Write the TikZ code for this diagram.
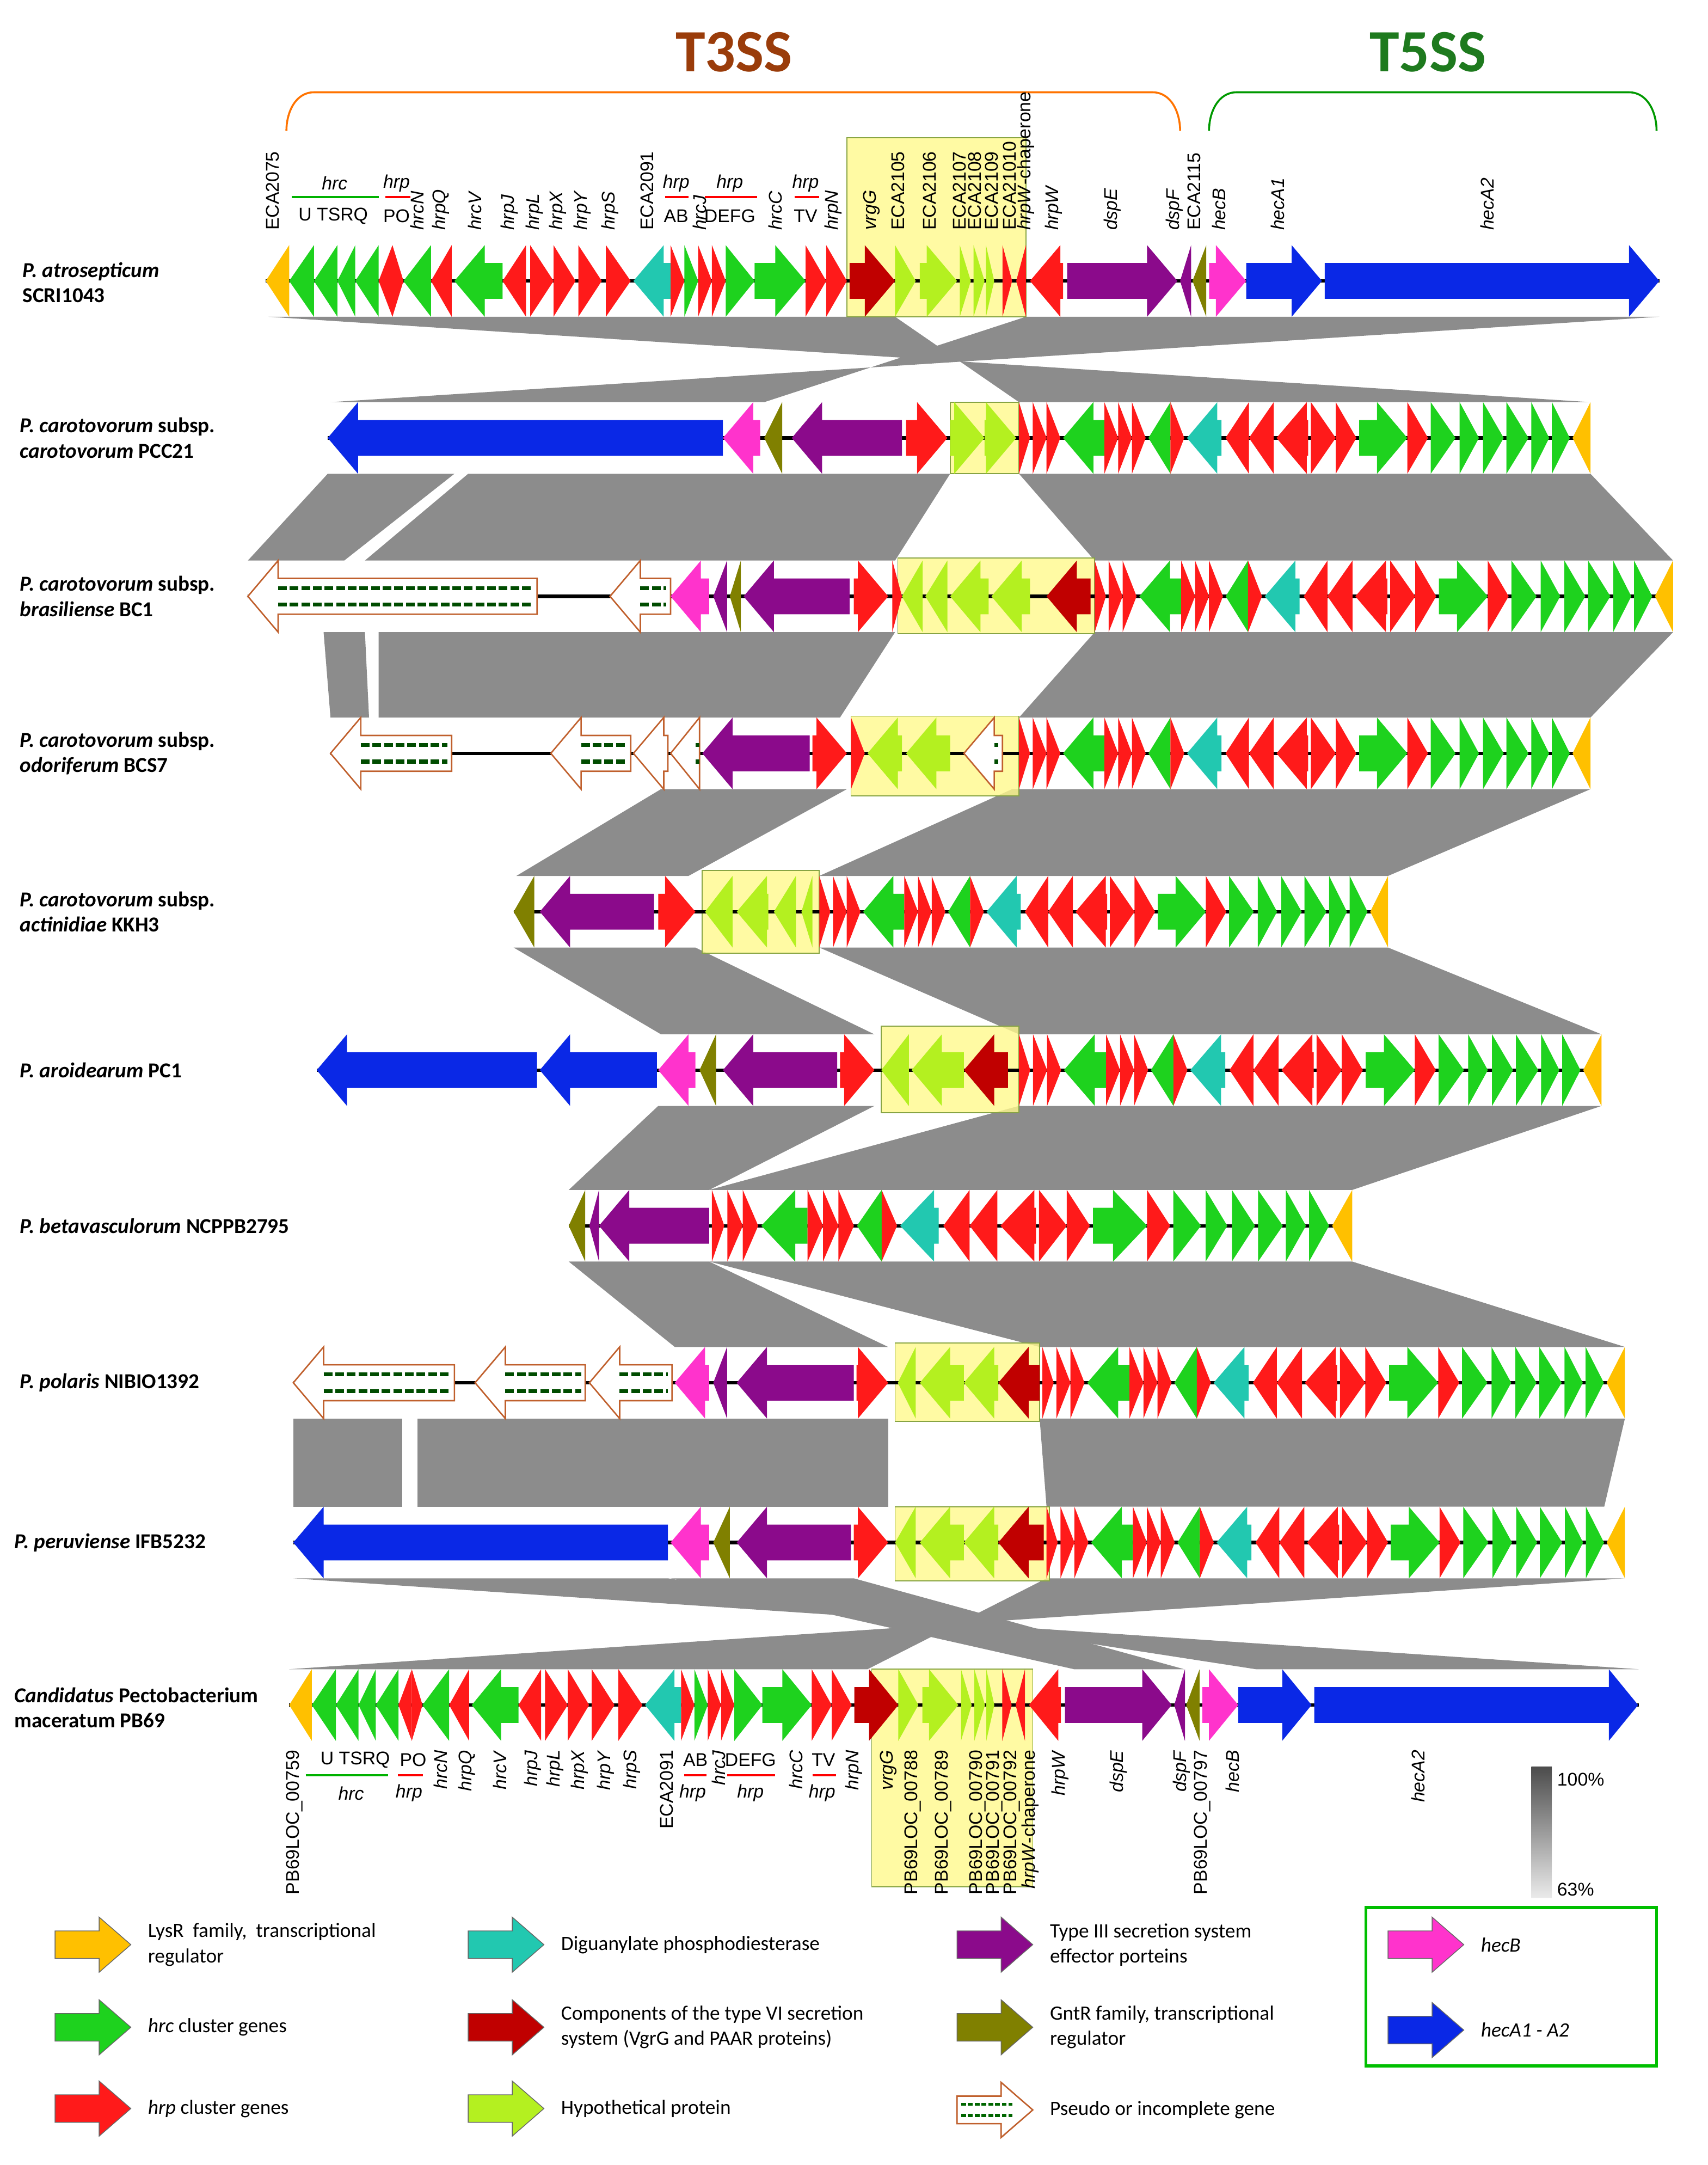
\documentclass[tikz,border=0pt]{standalone}
\usepackage{fontspec}
\setmainfont{Carlito}
\newfontfamily\arl{Liberation Sans}
\begin{document}
\begin{tikzpicture}[x=0.05cm,y=-0.05cm]
\definecolor{kly}{HTML}{FFC000}\definecolor{khc}{HTML}{1ED21E}\definecolor{khp}{HTML}{FF1A1A}
\definecolor{ktl}{HTML}{22C8B0}\definecolor{kdr}{HTML}{C00000}\definecolor{khy}{HTML}{B4F020}
\definecolor{kpu}{HTML}{8B0A8B}\definecolor{kol}{HTML}{808000}\definecolor{kmg}{HTML}{FF33CC}
\definecolor{kbl}{HTML}{0A28E6}\definecolor{kbr}{HTML}{C0602D}\definecolor{kband}{HTML}{8C8C8C}
\definecolor{kt3}{HTML}{9A3C0A}\definecolor{kt5}{HTML}{1E7A1E}
\tikzset{bb/.style={line width=3.5pt,black},band/.style={fill=kband,draw=none},
 hl/.style={fill=yellow!45,draw=yellow!60!green!70!black,line width=1pt,fill opacity=0.8},
 gl/.style={font=\arl\fontsize{19}{21}\selectfont,inner sep=1pt},
 rl/.style={font=\bfseries\fontsize{22}{26}\selectfont,anchor=west,align=left},
 lg/.style={font=\fontsize{21}{26}\selectfont,anchor=west,align=left}}
\newcommand\gn[4]{\pgfmathsetmacro\gl{#2-#1}\pgfmathsetmacro\hh{min(22,\gl)}%
 \if R#4\pgfmathsetmacro\xh{#2-\hh}\fill[fill=#3] (#1,-13)--(\xh,-13)--(\xh,-26)--(#2,0)--(\xh,26)--(\xh,13)--(#1,13)--cycle;%
 \else\pgfmathsetmacro\xh{#1+\hh}\fill[fill=#3] (#2,-13)--(\xh,-13)--(\xh,-26)--(#1,0)--(\xh,26)--(\xh,13)--(#2,13)--cycle;\fi}
\newcommand\pg[2]{\pgfmathsetmacro\gl{#2-#1}\pgfmathsetmacro\hh{min(22,\gl)}\pgfmathsetmacro\xh{#1+\hh}%
 \filldraw[fill=white,draw=kbr,line width=1.5pt] (#2,-13)--(\xh,-13)--(\xh,-26)--(#1,0)--(\xh,26)--(\xh,13)--(#2,13)--cycle;
 \draw[line width=4pt,dash pattern=on 9pt off 3pt,color=black!70!green] (\xh,-6)--(#2-3,-6) (\xh,6)--(#2-3,6);}
\def\corelist{0/8/khp/R,10/20/khp/R,20/30/khp/R,32/62/khc/L,62/72/khp/R,72/82/khp/R,82/92/khp/R,94/110/khc/L,110/120/khp/R,122/147/ktl/L,150/167/khp/L,167/185/khp/L,187/210/khp/L,212/230/khp/R,230/245/khp/R,247/282/khc/R,282/297/khp/R,299/317/khc/R,320/334/khc/R,337/352/khc/R,354/370/khc/R,372/385/khc/R,387/400/khc/R,402/415/kly/L}
\newcommand\core[3]{\pgfmathsetmacro\sc{(#2-#1)/415}\begin{scope}[shift={(#1,#3)},xscale=\sc]\foreach \a/\b/\c/\d in \corelist {\gn{\a}{\b}{\c}{\d}}\end{scope}}
\def\rowone{193/210/kly/L,210/228/khc/L,228/245/khc/L,245/258/khc/L,258/275/khc/L,275/285/khp/L,285/293/khp/R,293/313/khc/L,313/328/khp/L,330/365/khc/L,365/382/khp/L,385/402/khp/R,402/418/khp/R,420/437/khp/R,440/458/khp/R,460/487/ktl/L,487/497/khp/R,497/507/khc/R,507/517/khp/R,517/527/khp/R,527/548/khc/R,548/585/khc/R,585/600/khp/R,600/615/khp/R,617/650/kdr/R,650/665/khy/R,668/695/khy/R,697/705/khy/R,707/715/khy/R,716/722/khy/R,728/735/khp/R,738/745/khp/L,748/772/khp/L,775/855/kpu/R,857/865/kpu/L,866/876/kol/L,878/905/kmg/R,905/960/kbl/R,962/1205/kbl/R}
\useasboundingbox (0,0) rectangle (1240,1572);
\fill[white] (0,0) rectangle (1240,1572);
% braces
\draw[line width=2pt,color=orange!90!red] (208,95) to[out=90,in=180] (228,67) -- (837,67) to[out=0,in=90] (857,95);
\draw[line width=2pt,color=green!60!black] (878,95) to[out=90,in=180] (898,67) -- (1183,67) to[out=0,in=90] (1203,95);
\node[font=\bfseries\fontsize{62}{66}\selectfont,text=kt3] at (533,38) {T3SS};
\node[font=\bfseries\fontsize{62}{66}\selectfont,text=kt5] at (1037,38) {T5SS};
% bands
\fill[band] (195,230)--(650,230)--(740,292)--(1155,292)--cycle;
\fill[band] (745,230)--(1205,230)--(240,292)--(555,292)--cycle;
\fill[band] (238,344)--(330,344)--(250,407)--(180,407)--cycle;
\fill[band] (340,344)--(690,344)--(650,407)--(265,407)--cycle;
\fill[band] (740,344)--(1155,344)--(1215,407)--(795,407)--cycle;
\fill[band] (235,459)--(265,459)--(268,521)--(240,521)--cycle;
\fill[band] (275,459)--(650,459)--(610,521)--(275,521)--cycle;
\fill[band] (795,459)--(1215,459)--(1155,521)--(740,521)--cycle;
\fill[band] (480,573)--(615,573)--(500,636)--(375,636)--cycle;
\fill[band] (735,573)--(1155,573)--(1008,636)--(595,636)--cycle;
\fill[band] (373,688)--(505,688)--(635,751)--(480,751)--cycle;
\fill[band] (595,688)--(1008,688)--(1163,751)--(740,751)--cycle;
\fill[band] (478,803)--(635,803)--(515,864)--(413,864)--cycle;
\fill[band] (740,803)--(1163,803)--(982,864)--(515,864)--cycle;
\fill[band] (413,916)--(515,916)--(645,978)--(490,978)--cycle;
\fill[band] (515,916)--(982,916)--(1180,978)--(755,978)--cycle;
\fill[band] (213,1030)--(292,1030)--(292,1094)--(213,1094)--cycle;
\fill[band] (303,1030)--(645,1030)--(645,1094)--(303,1094)--cycle;
\fill[band] (755,1030)--(1180,1030)--(1165,1094)--(760,1094)--cycle;
\fill[band] (213,1146)--(485,1146)--(912,1212)--(1190,1212)--cycle;
\fill[band] (760,1146)--(1180,1146)--(210,1212)--(630,1212)--cycle;
\fill[band] (487,1146)--(620,1146)--(860,1212)--(780,1212)--cycle;
% highlights
\fill[hl] (615,100) rectangle (745,230);
\fill[hl] (690,292) rectangle (740,344);
\fill[hl] (652,405) rectangle (795,460);
\fill[hl] (618,520) rectangle (740,578);
\fill[hl] (510,632) rectangle (595,692);
\fill[hl] (640,745) rectangle (740,808);
\fill[hl] (650,975) rectangle (755,1032);
\fill[hl] (650,1094) rectangle (762,1148);
\fill[hl] (633,1212) rectangle (750,1370);
% row 1
\draw[bb] (193,204)--(1205,204);
\begin{scope}[shift={(0,204)}]\foreach \a/\b/\c/\d in \rowone {\gn{\a}{\b}{\c}{\d}}\end{scope}
% row 2
\draw[bb] (238,318)--(1155,318);
\begin{scope}[shift={(0,318)}]\foreach \a/\b/\c/\d in {238/525/kbl/L,525/552/kmg/L,555/568/kol/L,575/655/kpu/L,658/688/khp/R,690/715/khy/R,715/738/khy/R}{\gn{\a}{\b}{\c}{\d}}\end{scope}
\core{740}{1155}{318}
% row 3
\draw[bb] (180,433)--(1215,433);
\begin{scope}[shift={(0,433)}]\pg{180}{390}\pg{443}{487}\foreach \a/\b/\c/\d in {487/515/kmg/L,518/528/kpu/L,530/538/kol/L,540/617/kpu/L,620/645/khp/R,648/655/khp/R,655/670/khy/L,672/688/khy/L,690/718/khy/L,720/748/khy/L,760/792/kdr/L}{\gn{\a}{\b}{\c}{\d}}\end{scope}
\core{795}{1215}{433}
% row 4
\draw[bb] (240,547)--(1155,547);
\begin{scope}[shift={(0,547)}]\pg{240}{328}\pg{400}{458}\pg{460}{485}\pg{487}{508}\foreach \a/\b/\c/\d in {510/588/kpu/L,590/615/khp/R,618/628/khp/R,630/655/khy/L,658/690/khy/L}{\gn{\a}{\b}{\c}{\d}}\pg{700}{728}\end{scope}
\core{740}{1155}{547}
% row 5
\draw[bb] (373,662)--(1008,662);
\begin{scope}[shift={(0,662)}]\foreach \a/\b/\c/\d in {373/388/kol/L,392/475/kpu/L,478/505/khp/R,512/532/khy/L,535/558/khy/L,562/578/khy/L,582/590/khy/L}{\gn{\a}{\b}{\c}{\d}}\end{scope}
\core{595}{1008}{662}
% row 6
\draw[bb] (230,777)--(1163,777);
\begin{scope}[shift={(0,777)}]\foreach \a/\b/\c/\d in {230/390/kbl/L,392/477/kbl/L,478/505/kmg/L,508/520/kol/L,525/608/kpu/L,610/635/khp/R,640/660/khy/L,662/700/khy/L,700/732/kdr/L}{\gn{\a}{\b}{\c}{\d}}\end{scope}
\core{740}{1163}{777}
% row 7
\draw[bb] (413,890)--(982,890);
\begin{scope}[shift={(0,890)}]\foreach \a/\b/\c/\d in {413/425/kol/L,428/435/kpu/L,435/515/kpu/L}{\gn{\a}{\b}{\c}{\d}}\end{scope}
\core{517}{982}{890}
% row 8
\draw[bb] (213,1004)--(1180,1004);
\begin{scope}[shift={(0,1004)}]\pg{213}{330}\pg{345}{425}\pg{428}{488}\foreach \a/\b/\c/\d in {490/515/kmg/L,518/528/kpu/L,535/620/kpu/L,622/645/khp/R,652/665/khy/L,668/700/khy/L,700/725/khy/L,725/755/kdr/L}{\gn{\a}{\b}{\c}{\d}}\end{scope}
\core{757}{1180}{1004}
% row 9
\draw[bb] (213,1120)--(1180,1120);
\begin{scope}[shift={(0,1120)}]\foreach \a/\b/\c/\d in {213/485/kbl/L,487/515/kmg/L,518/530/kol/L,535/618/kpu/L,620/645/khp/R,650/665/khy/L,668/700/khy/L,700/725/khy/L,725/758/kdr/L}{\gn{\a}{\b}{\c}{\d}}\end{scope}
\core{760}{1180}{1120}
% row 10
\draw[bb] (210,1238)--(1190,1238);
\begin{scope}[shift={(210,1238)},xscale=0.968,shift={(-193,0)}]\foreach \a/\b/\c/\d in \rowone {\gn{\a}{\b}{\c}{\d}}\end{scope}
% row labels
\node[rl] at (14,205) {\textit{P. atrosepticum}\\SCRI1043};
\node[rl] at (12,318) {\textit{P. carotovorum} subsp.\\\textit{carotovorum} PCC21};
\node[rl] at (12,433) {\textit{P. carotovorum} subsp.\\\textit{brasiliense} BC1};
\node[rl] at (12,547) {\textit{P. carotovorum} subsp.\\\textit{odoriferum} BCS7};
\node[rl] at (12,662) {\textit{P. carotovorum} subsp.\\\textit{actinidiae} KKH3};
\node[rl] at (12,777) {\textit{P. aroidearum} PC1};
\node[rl] at (12,890) {\textit{P. betavasculorum} NCPPB2795};
\node[rl] at (12,1004) {\textit{P. polaris} NIBIO1392};
\node[rl] at (8,1120) {\textit{P. peruviense} IFB5232};
\node[rl] at (8,1240) {\textit{Candidatus} Pectobacterium\\maceratum PB69};
% top labels
\foreach \x/\t in {198/ECA2075,303/\textit{hrcN},320/\textit{hrpQ},345/\textit{hrcV},370/\textit{hrpJ},388/\textit{hrpL},405/\textit{hrpX},423/\textit{hrpY},443/\textit{hrpS},470/ECA2091,508/\textit{hrcJ},563/\textit{hrcC},605/\textit{hrpN},633/\textit{vrgG},652/ECA2105,675/ECA2106,697/ECA2107,708/ECA2108,720/ECA2109,733/ECA21010,745/\textit{hrpW}-chaperone,765/\textit{hrpW},808/\textit{dspE},853/\textit{dspF},867/ECA2115,885/\textit{hecB},928/\textit{hecA1},1080/\textit{hecA2}}
 {\node[gl,anchor=west,rotate=90] at (\x,168) {\t};}
\foreach \x/\t in {242/U TSRQ,288/PO,491/AB,530/DEFG,585/TV} {\node[gl] at (\x,157) {\t};}
\foreach \x/\t in {243/hrc,288/hrp,491/hrp,530/hrp,585/hrp} {\node[gl,font=\arl\itshape\fontsize{19}{21}\selectfont] at (\x,133) {\t};}
\draw[line width=2pt,green!70!black] (212,143)--(275,143);
\draw[line width=2pt,red] (280,143)--(298,143) (483,143)--(500,143) (512,143)--(550,143) (577,143)--(595,143);
% bottom labels
\foreach \x/\t in {214/PB69LOC\_00759,320/\textit{hrcN},339/\textit{hrpQ},363/\textit{hrcV},387/\textit{hrpJ},403/\textit{hrpL},421/\textit{hrpX},440/\textit{hrpY},459/\textit{hrpS},484/ECA2091,522/\textit{hrcJ},578/\textit{hrcC},620/\textit{hrpN},645/\textit{vrgG},663/PB69LOC\_00788,685/PB69LOC\_00789,710/PB69LOC\_00790,722/PB69LOC\_00791,735/PB69LOC\_00792,748/\textit{hrpW}-chaperone,770/\textit{hrpW},812/\textit{dspE},858/\textit{dspF},873/PB69LOC\_00797,895/\textit{hecB},1030/\textit{hecA2}}
 {\node[gl,anchor=east,rotate=90] at (\x,1270) {\t};}
\foreach \x/\t in {258/U TSRQ,300/PO,505/AB,545/DEFG,598/TV} {\node[gl] at (\x,1278) {\t};}
\foreach \x/\t in {255/hrc,297/hrp,503/hrp,545/hrp,597/hrp} {\node[gl,font=\arl\itshape\fontsize{19}{21}\selectfont] at (\x,1302) {\t};}
\draw[line width=2pt,green!70!black] (222,1289)--(282,1289);
\draw[line width=2pt,red] (289,1289)--(307,1289) (497,1289)--(513,1289) (528,1289)--(563,1289) (590,1289)--(607,1289);
% scale
\shade[top color=black!70,bottom color=black!8] (1112,1283) rectangle (1127,1378);
\node[gl,anchor=west] at (1130,1292) {100\%};
\node[gl,anchor=west] at (1130,1372) {63\%};
% legend
\newcommand\la[4]{\begin{scope}[shift={(#1,#2)}]\filldraw[fill=#3,draw=black!60,line width=0.8pt] (0,-10)--(32,-10)--(32,-20)--(55,0)--(32,20)--(32,10)--(0,10)--cycle;\end{scope}\node[lg] at (#1+65,#2) {#4};}
\la{40}{1412}{kly}{LysR\ \ family,\ \ transcriptional\\regulator}
\la{40}{1472}{khc}{\textit{hrc} cluster genes}
\la{40}{1531}{khp}{\textit{hrp} cluster genes}
\la{340}{1412}{ktl}{Diguanylate phosphodiesterase}
\la{340}{1472}{kdr}{Components of the type VI secretion\\system (VgrG and PAAR proteins)}
\la{340}{1531}{khy}{Hypothetical protein}
\la{695}{1412}{kpu}{Type III secretion system\\effector porteins}
\la{695}{1472}{kol}{GntR family, transcriptional\\regulator}
\begin{scope}[shift={(695,1532)}]\filldraw[fill=white,draw=kbr,line width=1.5pt] (0,-10)--(32,-10)--(32,-20)--(55,0)--(32,20)--(32,10)--(0,10)--cycle;
\draw[line width=3pt,dash pattern=on 5pt off 2pt,color=black!60!green] (3,-4)--(40,-4) (3,4)--(40,4);\end{scope}
\node[lg] at (760,1532) {Pseudo or incomplete gene};
\draw[line width=3pt,green!75!black] (992,1385) rectangle (1203,1500);
\la{1008}{1412}{kmg}{\textit{hecB}}
\la{1008}{1474}{kbl}{\textit{hecA1 - A2}}
\end{tikzpicture}
\end{document}
